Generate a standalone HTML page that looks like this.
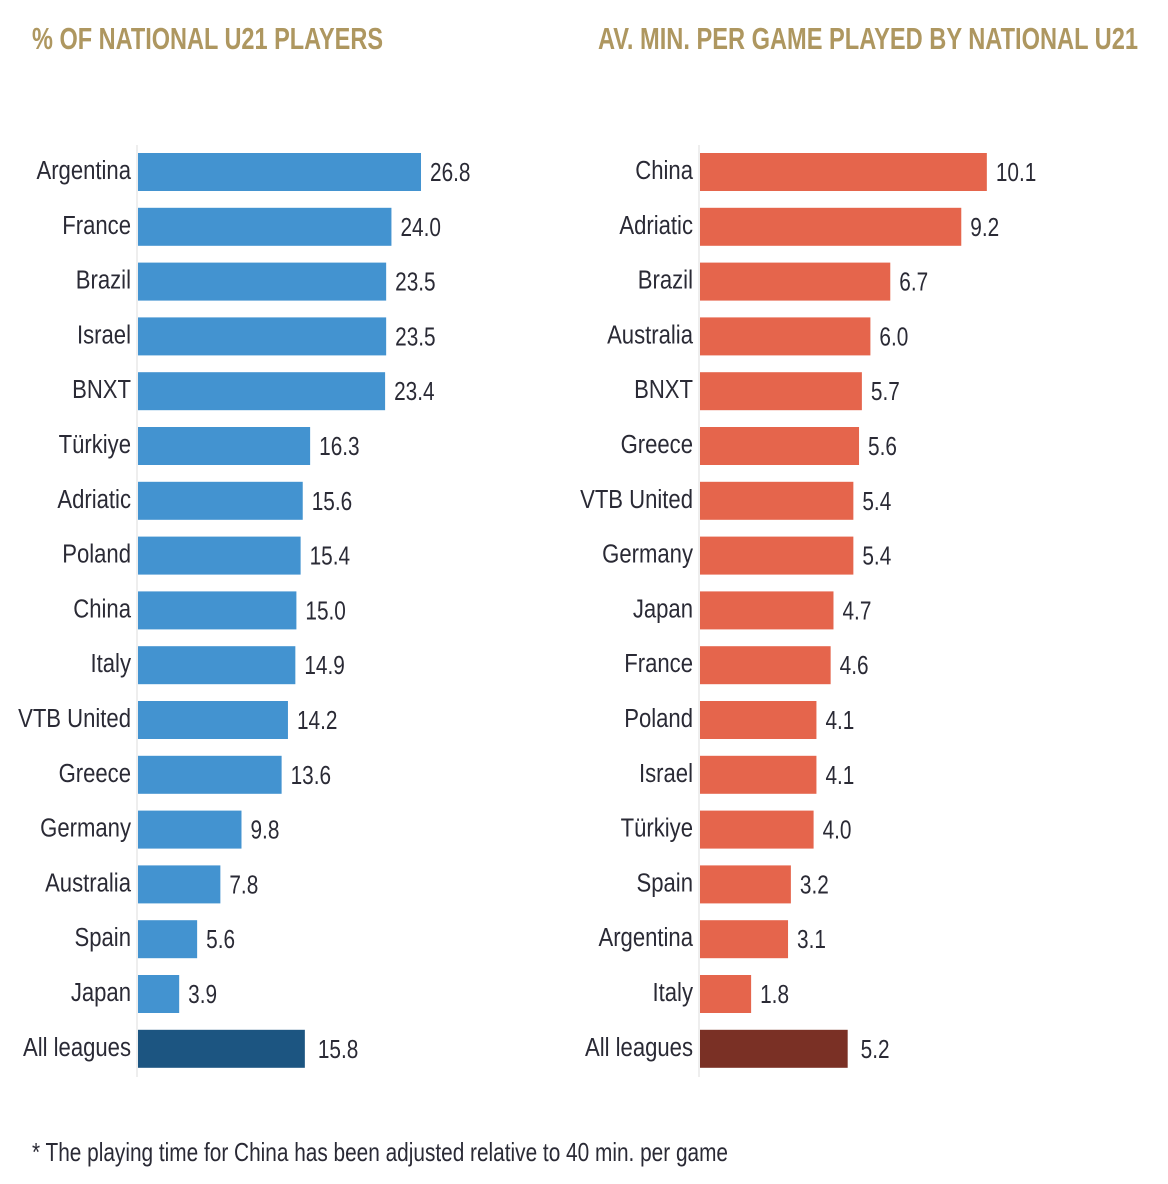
<!DOCTYPE html>
<html><head><meta charset="utf-8"><style>
html,body{margin:0;padding:0;background:#fff;}
svg{display:block;font-family:"Liberation Sans",sans-serif;}
</style></head><body>
<svg id="chart" width="1168" height="1184" viewBox="0 0 1168 1184" xmlns="http://www.w3.org/2000/svg">
<text x="32" y="49" font-size="31" font-weight="bold" fill="#ae9760" textLength="351" lengthAdjust="spacingAndGlyphs">% OF NATIONAL U21 PLAYERS</text>
<text x="598" y="49" font-size="31" font-weight="bold" fill="#ae9760" textLength="540" lengthAdjust="spacingAndGlyphs">AV. MIN. PER GAME PLAYED BY NATIONAL U21</text>
<text x="32" y="1161" font-size="26" fill="#2a2a35" textLength="696" lengthAdjust="spacingAndGlyphs">* The playing time for China has been adjusted relative to 40 min. per game</text>
<g id="left"></g><g id="right"></g>
</svg>
<script>
const leftCats=["Argentina","France","Brazil","Israel","BNXT","Türkiye","Adriatic","Poland","China","Italy","VTB United","Greece","Germany","Australia","Spain","Japan","All leagues"];
const leftVals=[26.8,24.0,23.5,23.5,23.4,16.3,15.6,15.4,15.0,14.9,14.2,13.6,9.8,7.8,5.6,3.9,15.8];
const rightCats=["China","Adriatic","Brazil","Australia","BNXT","Greece","VTB United","Germany","Japan","France","Poland","Israel","Türkiye","Spain","Argentina","Italy","All leagues"];
const rightVals=[10.1,9.2,6.7,6.0,5.7,5.6,5.4,5.4,4.7,4.6,4.1,4.1,4.0,3.2,3.1,1.8,5.2];
const NS="http://www.w3.org/2000/svg";
function mk(t,a,p){const e=document.createElementNS(NS,t);for(const k in a)e.setAttribute(k,a[k]);p.appendChild(e);return e;}
const yRow=i=>153+i*54.8;
function draw(gid,cats,vals,x0,scale,col,totCol,prefix){
  const g=document.getElementById(gid);
  const ax=mk("line",{x1:x0,x2:x0,y1:145,y2:1077,stroke:"#dcdcdc","stroke-width":1},g);
  
  
  cats.forEach((c,i)=>{
    const y=yRow(i);const w=vals[i]*scale;const last=i===cats.length-1;
    const r=mk("rect",{x:x0+1,y:y,width:w,height:38,fill:last?totCol:col},g);
    
    
    const l=mk("text",{transform:`translate(${x0-6},${y+26}) scale(0.85,1)`,"text-anchor":"end","font-size":26,fill:"#2a2a35"},g);
    l.textContent=c;
    
    
    const v=mk("text",{transform:`translate(${x0+w+(last?14:10)},${y+28}) scale(0.8,1)`,"font-size":26,fill:"#2a2a35"},g);
    v.textContent=vals[i].toFixed(1);
    
    
  });
}
draw("left",leftCats,leftVals,137,10.56,"#4393d0","#1c5581","left");
draw("right",rightCats,rightVals,699,28.4,"#e5654c","#7a3025","right");
</script>
</body></html>
